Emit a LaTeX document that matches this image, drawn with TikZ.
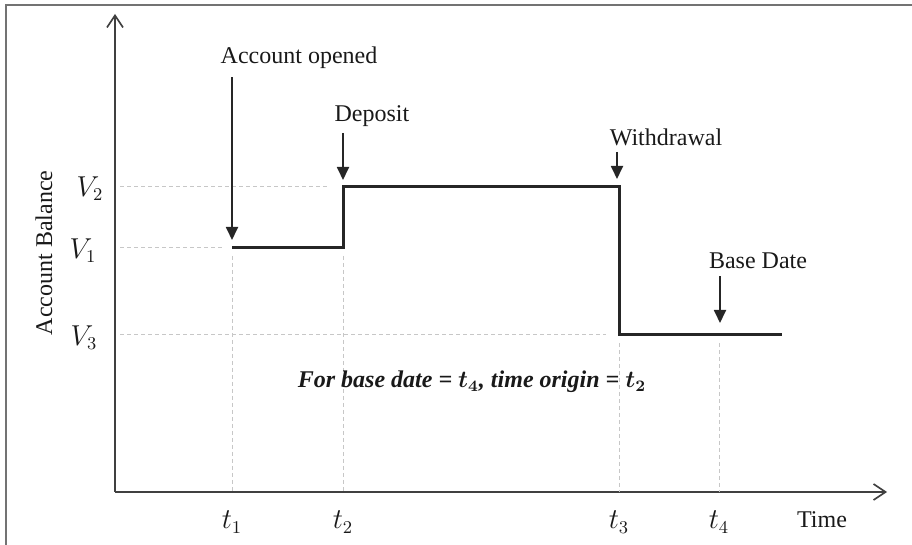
\documentclass[tikz,border=0pt]{standalone}
\usepackage{fontspec}
\setmainfont{Liberation Serif}
\usepackage{bm}
\usetikzlibrary{
	arrows.meta,
	positioning,
	calc,
}
\tikzset{balance/.style={
		% the stepped balance line
		line width=1.5pt,black!85,
		line join=miter,
}}
\tikzset{guide/.style={
		% light dashed helper lines
		dash pattern=on 2pt off 1.5pt,
		black!22,line width=0.5pt,
}}
\tikzset{axis/.style={
		% the two axes, open tip
		line width=0.8pt,black!75,
		-{Straight Barb[length=6pt,width=8pt]},
}}
\tikzset{eventarrow/.style={
		% arrows pointing at the events
		line width=0.9pt,black!85,
		-{Triangle[length=6.5pt,width=6pt]},
}}
\tikzset{event/.style={
		% labels of the events
		font=\fontsize{12}{14}\selectfont,inner sep=1pt,
}}
\tikzset{level/.style={
		% math labels on the axes
		font=\fontsize{13.5}{15}\selectfont,inner sep=1pt,
}}

\begin{document}
\begin{tikzpicture}[x=0.5pt,y=-0.5pt,text=black!90]
	\useasboundingbox (0,0) rectangle (912,545);
	% frame
	\draw[black!55,line width=1pt] (6,545) -- (6,5.5) -- (912,5.5);
	% axes
	\coordinate (origin) at (115,492);
	\coordinate (ytip) at (115,14);
	\coordinate (xtip) at (887,492);
	\draw[axis] (origin) -- (ytip);
	\draw[axis] (origin) -- (xtip);
	% corners of the balance
	\coordinate (open) at (232,248);
	\coordinate (dep low) at (343,248);
	\coordinate (dep high) at (343,187);
	\coordinate (wd high) at (619,187);
	\coordinate (wd low) at (619,335);
	\coordinate (base) at (719,335);
	\coordinate (end) at (782,335);
	% starts of the horizontal guides
	\coordinate (g1) at (120,248);
	\coordinate (g2) at (120,187);
	\coordinate (g3) at (120,335);
	\draw[guide] (g1) -- ($(open)+(-7,0)$);
	\draw[guide] (g2) -- ($(dep high)+(-13,0)$);
	\draw[guide] (g3) -- ($(wd low)+(-13,0)$);
	\draw[guide] ($(open)+(0,8)$) -- (open |- origin);
	\draw[guide] ($(dep low)+(0,8)$) -- (dep low |- origin);
	\draw[guide] ($(wd low)+(0,8)$) -- (wd low |- origin);
	\draw[guide] ($(base)+(0,8)$) -- (base |- origin);
	% balance
	\draw[balance] (open) -- (dep low) -- (dep high) -- (wd high) -- (wd low) -- (end);
	% value and time labels
	\node[level] (v2) at (90,189) {$V_2$};
	\node[level] (v1) at (83,251) {$V_1$};
	\node[level] (v3) at (84,338) {$V_3$};
	\node[event,rotate=90] (ylabel) at (44,253) {Account Balance};
	\node[level] (t1) at (232,522) {$t_1$};
	\node[level] (t2) at (343,522) {$t_2$};
	\node[level] (t3) at (619,522) {$t_3$};
	\node[level] (t4) at (719,522) {$t_4$};
	\node[event] (time) at (822,520) {Time};
	% events
	\node[event] (opened) at (299,58) {Account opened};
	\node[event] (deposit) at (372,116) {Deposit};
	\node[event] (withdrawal) at (666,137) {Withdrawal};
	\node[event] (basedate) at (758,261) {Base Date};
	\draw[eventarrow] ($(opened.south -| open)+(0,6)$) -- ($(open)+(0,-8)$);
	\draw[eventarrow] ($(deposit.south -| dep high)+(0,4)$) -- ($(dep high)+(0,-7)$);
	\draw[eventarrow] ($(withdrawal.south -| wd high)+(-2,4)$) -- ($(wd high)+(-2,-8)$);
	\draw[eventarrow] ($(basedate.south -| base)+(1,5)$) -- ($(base)+(1,-12)$);
	% note
	\node[event] (note) at (472,382)
		{\bfseries\itshape For base date = $\bm{t_4}$, time origin = $\bm{t_2}$};
\end{tikzpicture}
\end{document}
